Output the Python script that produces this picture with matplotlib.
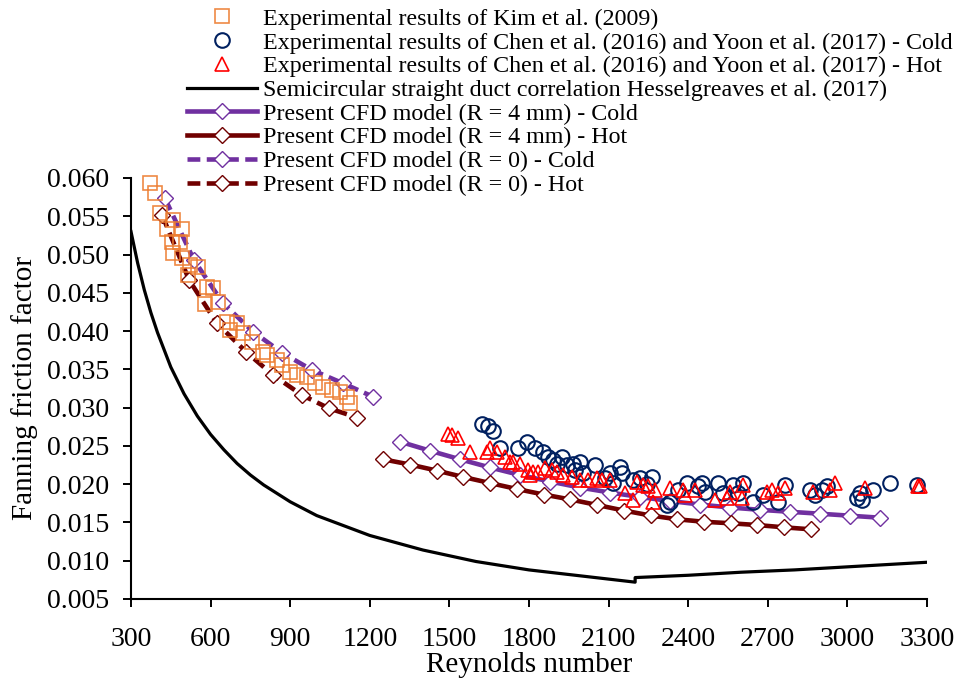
import matplotlib
matplotlib.use("Agg")
import matplotlib.pyplot as plt
import numpy as np

plt.rcParams['font.family'] = ['Liberation Serif', 'DejaVu Serif']

# Kim et al. (2009)
kim_re = [372, 390, 409, 459, 435, 491, 453, 485, 459, 491, 522, 554, 516, 585, 610,
          579, 629, 661, 698, 673, 723, 755, 799, 811, 849, 868, 899, 925, 962, 993,
          1025, 1056, 1088, 1113, 1125]
kim_f = [0.0593, 0.0580, 0.0554, 0.0545, 0.0534, 0.0534, 0.0517, 0.0517, 0.0502, 0.0495,
         0.0486, 0.0484, 0.0473, 0.0458, 0.0456, 0.0436, 0.0438, 0.0412, 0.0410, 0.0401,
         0.0397, 0.0386, 0.0373, 0.0369, 0.0362, 0.0356, 0.0347, 0.0343, 0.0340, 0.0332,
         0.0327, 0.0323, 0.0321, 0.0314, 0.0306]

# Chen et al. (2016) / Yoon et al. (2017) - cold
cold_re = [1622, 1646, 1666, 1691, 1760, 1791, 1823, 1854, 1872, 1892, 1923, 1905, 1942,
           1967, 1992, 1973, 2005, 2049, 2087, 2105, 2143, 2149, 2118, 2192, 2218, 2245,
           2263, 2319, 2332, 2363, 2394, 2438, 2451, 2463, 2513, 2532, 2570, 2608, 2589,
           2645, 2683, 2740, 2765, 2859, 2878, 2903, 2922, 3035, 3054, 3048, 3098, 3161,
           3261]
cold_f = [0.0279, 0.0276, 0.0269, 0.0247, 0.0247, 0.0255, 0.0247, 0.0242, 0.0235, 0.0232,
          0.0236, 0.0227, 0.0225, 0.0227, 0.0229, 0.0219, 0.0214, 0.0225, 0.0208, 0.0214,
          0.0222, 0.0214, 0.0201, 0.0205, 0.0208, 0.0200, 0.0210, 0.0173, 0.0177, 0.0192,
          0.0201, 0.0197, 0.0201, 0.0190, 0.0201, 0.0188, 0.0199, 0.0201, 0.0188, 0.0177,
          0.0186, 0.0177, 0.0199, 0.0192, 0.0186, 0.0192, 0.0197, 0.0182, 0.0179, 0.0188,
          0.0192, 0.0201, 0.0199]

# Chen et al. (2016) / Yoon et al. (2017) - hot
hot_re = [1496, 1509, 1534, 1578, 1641, 1653, 1678, 1710, 1728, 1741, 1766, 1797, 1816,
          1835, 1804, 1860, 1886, 1904, 1929, 1961, 1992, 2024, 2055, 2074, 2105, 2162,
          2193, 2206, 2231, 2250, 2269, 2275, 2332, 2382, 2388, 2426, 2501, 2545, 2558,
          2602, 2608, 2696, 2715, 2740, 2765, 2872, 2934, 2953, 3066, 3267, 3274]
hot_f = [0.0266, 0.0264, 0.0260, 0.0242, 0.0242, 0.0247, 0.0242, 0.0236, 0.0229, 0.0229,
         0.0227, 0.0218, 0.0216, 0.0216, 0.0212, 0.0221, 0.0218, 0.0216, 0.0212, 0.0210,
         0.0205, 0.0205, 0.0208, 0.0205, 0.0205, 0.0188, 0.0179, 0.0203, 0.0199, 0.0197,
         0.0177, 0.0192, 0.0195, 0.0192, 0.0186, 0.0192, 0.0179, 0.0182, 0.0190, 0.0182,
         0.0199, 0.0190, 0.0192, 0.0188, 0.0195, 0.0190, 0.0192, 0.0201, 0.0195, 0.0197,
         0.0197]

# semicircular straight duct correlation
corr_re = [300, 325, 350, 375, 400, 450, 500, 550, 600, 650, 700, 750, 800, 900, 1000,
           1200, 1400, 1600, 1800, 2000, 2200, 2200, 2400, 2600, 2800, 3000, 3300]
corr_f = [0.0530, 0.0489, 0.0454, 0.0424, 0.0398, 0.0353, 0.0318, 0.0289, 0.0265, 0.0245,
          0.0227, 0.0212, 0.0199, 0.0177, 0.0159, 0.0133, 0.0114, 0.0099, 0.0088, 0.0080,
          0.0072, 0.0078, 0.0081, 0.0085, 0.0088, 0.0092, 0.0098]

# CFD R = 4 mm
r4c_re = [1314, 1427, 1540, 1653, 1766, 1879, 1992, 2105, 2219, 2332, 2445, 2558, 2671,
          2784, 2897, 3010, 3123]
r4c_f = [0.02555, 0.02437, 0.02325, 0.02218, 0.0212, 0.02035, 0.01956, 0.01891, 0.01832,
         0.0178, 0.01734, 0.01695, 0.01665, 0.01639, 0.01614, 0.01588, 0.01562]
r4h_re = [1250, 1351, 1452, 1552, 1653, 1754, 1855, 1956, 2057, 2157, 2258, 2359, 2460,
          2561, 2661, 2762, 2863]
r4h_f = [0.02325, 0.02257, 0.02178, 0.02094, 0.02015, 0.01937, 0.01865, 0.0180, 0.01728,
         0.01656, 0.01591, 0.01541, 0.01509, 0.01489, 0.01466, 0.01436, 0.0141]

# CFD R = 0
r0c_re = [428, 537, 647, 760, 869, 982, 1099, 1212]
r0c_f = [0.05735, 0.04929, 0.04363, 0.03992, 0.03718, 0.03492, 0.03318, 0.03143]
r0h_re = [417, 519, 624, 733, 835, 944, 1046, 1152]
r0h_f = [0.05517, 0.04667, 0.04102, 0.03731, 0.03426, 0.03165, 0.02991, 0.02871]

c_orange = '#ED7D31'
c_navy = '#002060'
c_red = '#FF0000'
c_purple = '#7030A0'
c_maroon = '#700000'

fig = plt.figure(figsize=(9.59, 6.79), dpi=100)
ax = fig.add_axes([131/959, 1 - 599/679, 796/959, 421/679])

h4 = ax.plot(corr_re, corr_f, color='black', lw=2.3, zorder=2)[0]
line_kw = dict(lw=3.3, marker='D', ms=8, mfc='white', mew=1.0, zorder=3)
h5 = ax.plot(r4c_re, r4c_f, color=c_purple, mec=c_purple, **line_kw)[0]
h6 = ax.plot(r4h_re, r4h_f, color=c_maroon, mec=c_maroon, **line_kw)[0]
h7 = ax.plot(r0c_re, r0c_f, color=c_purple, mec=c_purple, dashes=(2.8, 1.4), **line_kw)[0]
h8 = ax.plot(r0h_re, r0h_f, color=c_maroon, mec=c_maroon, dashes=(2.8, 1.4), **line_kw)[0]

h1 = ax.plot(kim_re, kim_f, ls='none', marker='s', ms=10.5, mfc='none', mec=c_orange,
             mew=1.2, alpha=0.9, zorder=4, clip_on=False)[0]
h2 = ax.plot(cold_re, cold_f, ls='none', marker='o', ms=10.5, mfc='none', mec=c_navy,
             mew=1.5, zorder=4)[0]
h3 = ax.plot(hot_re, hot_f, ls='none', marker='^', ms=10, mfc='none', mec=c_red,
             mew=1.2, zorder=5)[0]

ax.set_xlim(300, 3300)
ax.set_ylim(0.005, 0.060)
ax.set_xticks(np.arange(300, 3301, 300))
ax.set_yticks(np.arange(0.005, 0.0601, 0.005))
ax.yaxis.set_major_formatter(matplotlib.ticker.FormatStrFormatter('%.3f'))
for s in ['top', 'right']:
    ax.spines[s].set_visible(False)
for s in ['left', 'bottom']:
    ax.spines[s].set_linewidth(1.5)
ax.tick_params(direction='out', length=6, width=1.4, labelsize=20)
ax.tick_params(axis='x', pad=14)
ax.tick_params(axis='y', pad=10)
ax.set_xlabel('Reynolds number', fontsize=21, labelpad=0)
ax.set_ylabel('Fanning friction factor', fontsize=21, labelpad=6)

labels = ['Experimental results of Kim et al. (2009)',
          'Experimental results of Chen et al. (2016) and Yoon et al. (2017) - Cold',
          'Experimental results of Chen et al. (2016) and Yoon et al. (2017) - Hot',
          'Semicircular straight duct correlation Hesselgreaves et al. (2017)',
          'Present CFD model (R = 4 mm) - Cold',
          'Present CFD model (R = 4 mm) - Hot',
          'Present CFD model (R = 0) - Cold',
          'Present CFD model (R = 0) - Hot']
fig.legend([h1, h2, h3, h4, h5, h6, h7, h8], labels, loc='upper left',
           bbox_to_anchor=(187/959, 1 - 8/679), frameon=False, fontsize=17.3,
           handlelength=2.9, handletextpad=0.25, labelspacing=0.08, borderpad=0,
           borderaxespad=0)

fig.savefig('out.png', dpi=100)
